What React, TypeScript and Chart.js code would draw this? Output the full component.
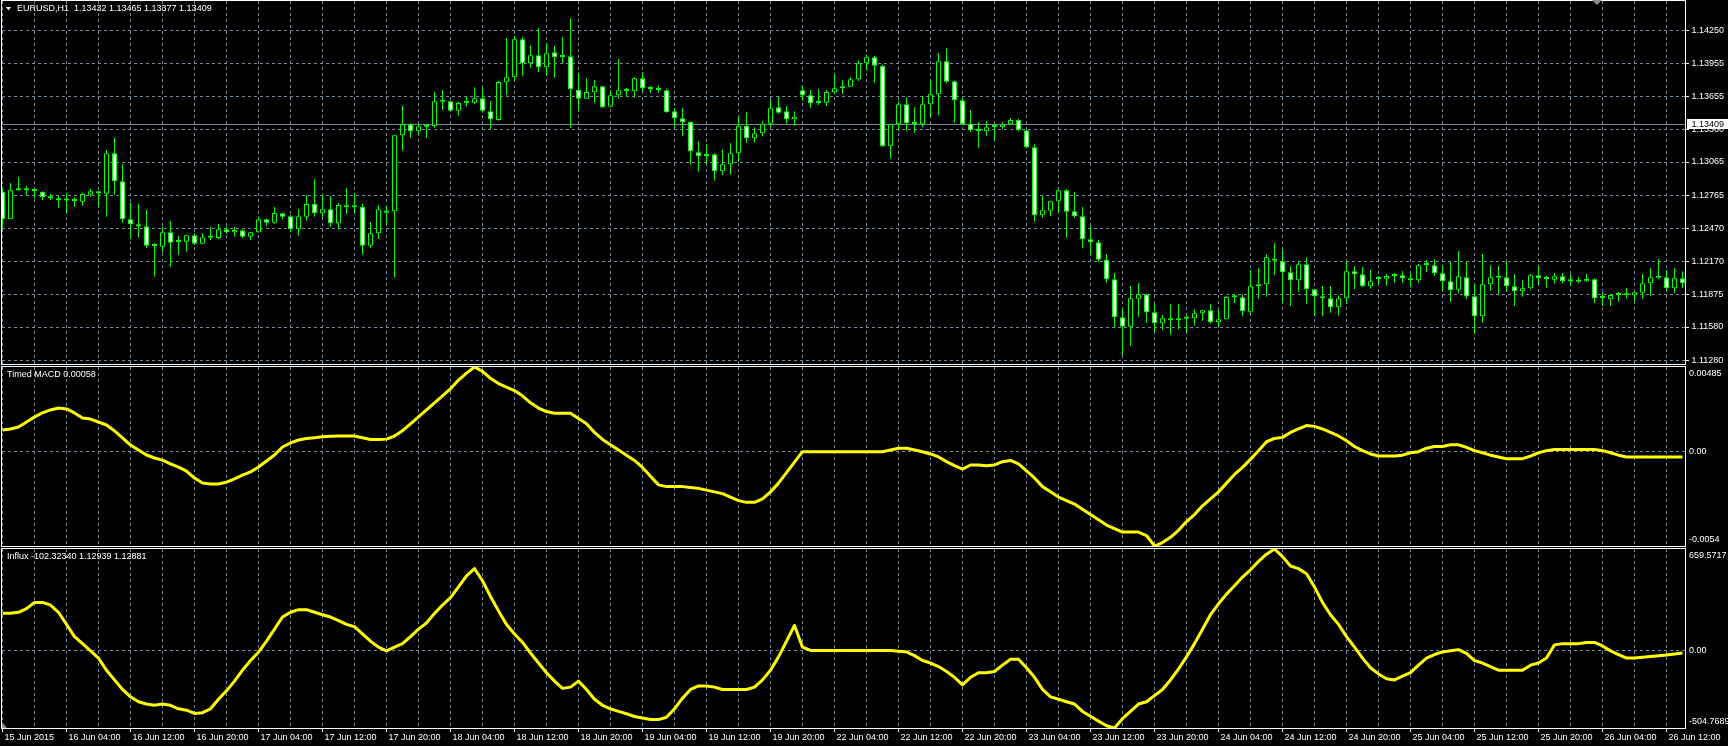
import React, { useEffect, useRef } from "react";
import { Chart, registerables } from "chart.js";

Chart.register(...registerables);

// ---------------- data ----------------
const PRICE_TITLE = "EURUSD,H1  1.13432 1.13465 1.13377 1.13409";
const MACD_TITLE = "Timed MACD 0.00058";
const INFLUX_TITLE = "Influx -102.32340 1.12939 1.12881";

const X_LABELS = [
  "15 Jun 2015", "16 Jun 04:00", "16 Jun 12:00", "16 Jun 20:00", "17 Jun 04:00", "17 Jun 12:00",
  "17 Jun 20:00", "18 Jun 04:00", "18 Jun 12:00", "18 Jun 20:00", "19 Jun 04:00", "19 Jun 12:00",
  "19 Jun 20:00", "22 Jun 04:00", "22 Jun 12:00", "22 Jun 20:00", "23 Jun 04:00", "23 Jun 12:00",
  "23 Jun 20:00", "24 Jun 04:00", "24 Jun 12:00", "24 Jun 20:00", "25 Jun 04:00", "25 Jun 12:00",
  "25 Jun 20:00", "26 Jun 04:00", "26 Jun 12:00",
];
const BARS_PER_LABEL = 8;
const BARS_PER_GRID = 4;

const PRICE_TICKS = [1.1425, 1.13955, 1.13655, 1.1336, 1.13065, 1.12765, 1.1247, 1.1217, 1.11875, 1.1158, 1.1128];
const PRICE_MIN = 1.11247;
const PRICE_MAX = 1.14514;
const CURRENT_PRICE = 1.13409;

const MACD_MAX = 0.00485;
const MACD_MIN = -0.0054;
const MACD_AXIS_LABELS = ["0.00485", "0.00", "-0.0054"];
const INFLUX_MAX = 659.5717;
const INFLUX_MIN = -504.7689;
const INFLUX_AXIS_LABELS = ["659.5717", "0.00", "-504.7689"];

const OPEN = [
  1.12798, 1.12549, 1.1281, 1.12813, 1.1281, 1.12798, 1.12744, 1.12738, 1.1272, 1.12714,
  1.12708, 1.12771, 1.12798, 1.1278, 1.13143, 1.12891, 1.12549, 1.12504, 1.12486, 1.12312,
  1.12303, 1.12432, 1.12345, 1.12348, 1.12405, 1.1233, 1.12384, 1.12381, 1.12459, 1.12432,
  1.1245, 1.12393, 1.12432, 1.12549, 1.12519, 1.12603, 1.12576, 1.12459, 1.12573, 1.12687,
  1.12603, 1.12639, 1.12513, 1.12675, 1.12657, 1.12663, 1.12312, 1.12423, 1.12627, 1.12621,
  1.13305, 1.13404, 1.13341, 1.13398, 1.13389, 1.13611, 1.13611, 1.13527, 1.13596, 1.13599,
  1.13638, 1.13521, 1.13443, 1.13782, 1.13827, 1.14169, 1.13953, 1.14025, 1.13917, 1.14052,
  1.14013, 1.14016, 1.13716, 1.13635, 1.13692, 1.13746, 1.13563, 1.13665, 1.13704, 1.13701,
  1.13818, 1.13722, 1.13728, 1.1371, 1.13521, 1.13458, 1.13425, 1.13152, 1.13134, 1.13134,
  1.12981, 1.13044, 1.13143, 1.13392, 1.13278, 1.13323, 1.1341, 1.13557, 1.13521, 1.13449,
  1.1371, 1.13665, 1.13602, 1.13599, 1.13692, 1.13743, 1.13743, 1.13809, 1.13953, 1.14007,
  1.13932, 1.13206, 1.13404, 1.13584, 1.13413, 1.13404, 1.13584, 1.13674, 1.13971, 1.13791,
  1.1362, 1.1341, 1.1335, 1.13341, 1.13386, 1.13377, 1.13404, 1.13443, 1.1335, 1.13197,
  1.12585, 1.12627, 1.12711, 1.1281, 1.12621, 1.12576, 1.12369, 1.12342, 1.12186, 1.12009,
  1.11667, 1.11583, 1.11835, 1.11874, 1.11712, 1.11613, 1.11658, 1.11658, 1.11658, 1.11658,
  1.11703, 1.1173, 1.11622, 1.11649, 1.11847, 1.11847, 1.11718, 1.11946, 1.11964, 1.12195,
  1.12171, 1.12072, 1.12, 1.12144, 1.11919, 1.11856, 1.11838, 1.11757, 1.11838, 1.12081,
  1.12054, 1.11946, 1.12018, 1.12015, 1.12039, 1.12045, 1.12018, 1.12, 1.12138, 1.12135,
  1.12063, 1.11991, 1.11916, 1.12027, 1.11856, 1.11676, 1.11964, 1.1203, 1.12027, 1.11946,
  1.11901, 1.11928, 1.12045, 1.12018, 1.12006, 1.12036, 1.12009, 1.11991, 1.11991, 1.12009,
  1.11847, 1.11829, 1.11868, 1.11865, 1.11865, 1.11889, 1.11973, 1.12024, 1.12027, 1.11928,
  1.12018,
];
const HIGH = [
  1.12828, 1.12876, 1.1293, 1.12849, 1.12813, 1.12801, 1.12777, 1.12759, 1.12789, 1.12747,
  1.12789, 1.12822, 1.12801, 1.13173, 1.13281, 1.13047, 1.12696, 1.12687, 1.12633, 1.12333,
  1.1248, 1.12534, 1.12399, 1.12408, 1.12423, 1.12423, 1.1248, 1.12507, 1.12483, 1.12483,
  1.12459, 1.12435, 1.12573, 1.12555, 1.1266, 1.12609, 1.12588, 1.12642, 1.12768, 1.12912,
  1.12771, 1.12759, 1.12693, 1.12831, 1.12783, 1.12693, 1.12525, 1.12675, 1.12672, 1.13311,
  1.13569, 1.13413, 1.13407, 1.13404, 1.13695, 1.13713, 1.13617, 1.13605, 1.13656, 1.13737,
  1.13734, 1.13614, 1.13794, 1.14181, 1.14199, 1.14187, 1.14115, 1.14271, 1.14136, 1.14109,
  1.1419, 1.14358, 1.13869, 1.13818, 1.13803, 1.13749, 1.1371, 1.13992, 1.13731, 1.13827,
  1.13872, 1.13749, 1.13755, 1.13719, 1.13548, 1.13551, 1.13431, 1.13251, 1.13227, 1.13143,
  1.13179, 1.13236, 1.13479, 1.13515, 1.13377, 1.13431, 1.13623, 1.13653, 1.13566, 1.13521,
  1.13758, 1.13716, 1.13722, 1.13713, 1.13857, 1.138, 1.13827, 1.1398, 1.14034, 1.14019,
  1.13941, 1.1341, 1.13611, 1.13647, 1.13557, 1.13656, 1.138, 1.14046, 1.14091, 1.13797,
  1.13644, 1.13533, 1.13425, 1.13434, 1.13389, 1.13422, 1.13461, 1.13455, 1.13356, 1.13224,
  1.12765, 1.12717, 1.12816, 1.12822, 1.12795, 1.1266, 1.12486, 1.12363, 1.12237, 1.12066,
  1.11748, 1.11949, 1.11976, 1.1188, 1.11787, 1.11688, 1.11787, 1.11787, 1.11688, 1.11739,
  1.11733, 1.11787, 1.11733, 1.11856, 1.11874, 1.11874, 1.12093, 1.12114, 1.12234, 1.12336,
  1.12273, 1.12126, 1.12171, 1.12204, 1.11925, 1.11949, 1.11949, 1.11865, 1.12174, 1.12126,
  1.1212, 1.12093, 1.12036, 1.12057, 1.12063, 1.12084, 1.12057, 1.12147, 1.12183, 1.12192,
  1.12138, 1.12168, 1.12264, 1.12168, 1.11964, 1.12237, 1.12135, 1.12129, 1.12168, 1.12057,
  1.12003, 1.12057, 1.12132, 1.12039, 1.12066, 1.12066, 1.12054, 1.12027, 1.12057, 1.12018,
  1.11892, 1.11874, 1.11895, 1.11931, 1.11898, 1.12057, 1.12111, 1.12192, 1.12093, 1.12111,
  1.12081,
];
const LOW = [
  1.12468, 1.12549, 1.12807, 1.12768, 1.12738, 1.12723, 1.12723, 1.12654, 1.12609, 1.12663,
  1.12672, 1.12753, 1.12663, 1.12573, 1.12768, 1.12519, 1.12372, 1.12384, 1.12294, 1.12033,
  1.12252, 1.12123, 1.12228, 1.12258, 1.12318, 1.1233, 1.12363, 1.12369, 1.1242, 1.12393,
  1.12378, 1.12363, 1.12429, 1.12492, 1.1251, 1.12549, 1.12438, 1.12402, 1.12537, 1.12573,
  1.12567, 1.12483, 1.12459, 1.12597, 1.12609, 1.12231, 1.12291, 1.12375, 1.12501, 1.12027,
  1.13167, 1.13284, 1.13308, 1.13284, 1.13374, 1.13533, 1.13521, 1.13482, 1.13563, 1.13587,
  1.13509, 1.13359, 1.13437, 1.13668, 1.13797, 1.13842, 1.13914, 1.13875, 1.13842, 1.13824,
  1.13953, 1.13374, 1.13527, 1.13632, 1.13599, 1.13554, 1.13557, 1.13635, 1.13653, 1.13644,
  1.13698, 1.13683, 1.13689, 1.13509, 1.13374, 1.13302, 1.13041, 1.12978, 1.1305, 1.12897,
  1.12948, 1.12951, 1.13065, 1.13239, 1.13239, 1.13296, 1.13377, 1.135, 1.1341, 1.13392,
  1.13617, 1.13551, 1.13578, 1.13569, 1.13677, 1.13677, 1.13743, 1.13794, 1.13887, 1.13779,
  1.13203, 1.13095, 1.13347, 1.13347, 1.13329, 1.13377, 1.1347, 1.13488, 1.13773, 1.13419,
  1.13401, 1.13338, 1.13194, 1.13302, 1.13263, 1.13359, 1.13401, 1.13344, 1.13188, 1.12528,
  1.12564, 1.12579, 1.12612, 1.12384, 1.12564, 1.12291, 1.12231, 1.12165, 1.11979, 1.11577,
  1.11328, 1.11412, 1.11673, 1.11619, 1.11535, 1.11556, 1.11511, 1.11559, 1.11529, 1.11595,
  1.11637, 1.11613, 1.1158, 1.11649, 1.11796, 1.11676, 1.11694, 1.11835, 1.11853, 1.12048,
  1.11799, 1.11772, 1.11898, 1.1179, 1.11682, 1.11676, 1.11709, 1.11682, 1.1179, 1.11919,
  1.11943, 1.11925, 1.11967, 1.11952, 1.11979, 1.11979, 1.11937, 1.11979, 1.12075, 1.12039,
  1.11907, 1.11805, 1.11883, 1.11832, 1.1152, 1.11619, 1.11907, 1.11871, 1.11901, 1.11772,
  1.11853, 1.11919, 1.11961, 1.11934, 1.1197, 1.11976, 1.11952, 1.11976, 1.11988, 1.11796,
  1.11769, 1.11769, 1.11808, 1.11838, 1.11805, 1.11835, 1.11862, 1.12012, 1.1191, 1.11883,
  1.11931,
];
const CLOSE = [
  1.12549, 1.1281, 1.12816, 1.1281, 1.12804, 1.12747, 1.12738, 1.1272, 1.12719, 1.1272,
  1.12777, 1.12801, 1.12783, 1.13143, 1.12891, 1.12549, 1.12504, 1.12486, 1.12312, 1.12309,
  1.12432, 1.12339, 1.12351, 1.12405, 1.1233, 1.12387, 1.12387, 1.12459, 1.12432, 1.12453,
  1.12393, 1.12432, 1.12549, 1.12519, 1.12606, 1.12573, 1.12459, 1.12576, 1.12687, 1.12603,
  1.12639, 1.12513, 1.12678, 1.12657, 1.1266, 1.12312, 1.12423, 1.12639, 1.12609, 1.13305,
  1.13404, 1.13341, 1.13386, 1.13383, 1.13611, 1.13608, 1.13527, 1.13596, 1.13602, 1.13638,
  1.13527, 1.13449, 1.13785, 1.13827, 1.14169, 1.13953, 1.14025, 1.13917, 1.14043, 1.14007,
  1.1401, 1.13719, 1.13635, 1.13695, 1.13746, 1.13557, 1.13665, 1.1371, 1.1371, 1.13818,
  1.13728, 1.13725, 1.13713, 1.13512, 1.13458, 1.13425, 1.13161, 1.13119, 1.13119, 1.12981,
  1.13044, 1.13143, 1.13392, 1.13278, 1.13323, 1.1341, 1.13548, 1.13509, 1.13449, 1.13473,
  1.13665, 1.13593, 1.13596, 1.13695, 1.13728, 1.13728, 1.13809, 1.13953, 1.14007, 1.13932,
  1.13206, 1.13404, 1.13584, 1.13413, 1.13407, 1.13584, 1.13674, 1.13971, 1.13788, 1.1362,
  1.13407, 1.1335, 1.13344, 1.13377, 1.1338, 1.13404, 1.13443, 1.1335, 1.13197, 1.12585,
  1.1263, 1.12711, 1.1281, 1.12618, 1.12576, 1.12369, 1.12342, 1.12186, 1.12009, 1.11667,
  1.11583, 1.11838, 1.11874, 1.11712, 1.11613, 1.11658, 1.1164, 1.1164, 1.11655, 1.11703,
  1.1173, 1.11622, 1.11649, 1.1185, 1.1185, 1.11721, 1.11946, 1.11964, 1.12207, 1.12177,
  1.12072, 1.12, 1.12144, 1.11919, 1.11856, 1.11838, 1.11757, 1.11838, 1.12081, 1.12054,
  1.11946, 1.11991, 1.12012, 1.12039, 1.12042, 1.12018, 1.12, 1.12135, 1.12144, 1.12063,
  1.11991, 1.1191, 1.12036, 1.11856, 1.11676, 1.11964, 1.12027, 1.12024, 1.11946, 1.11901,
  1.11928, 1.12045, 1.12018, 1.12012, 1.12036, 1.11991, 1.11991, 1.11988, 1.12012, 1.11838,
  1.11841, 1.11868, 1.11871, 1.11871, 1.11892, 1.11973, 1.12027, 1.12027, 1.11928, 1.12018,
  1.11973,
];

const MACD = [
  0.00124, 0.0013, 0.00141, 0.0017, 0.00199, 0.00222, 0.00239, 0.0025, 0.00245, 0.00222,
  0.00193, 0.00187, 0.0017, 0.00153, 0.00119, 0.00079, 0.00038, 0.0001, -0.00019, -0.00036,
  -0.00048, -0.0007, -0.00088, -0.00111, -0.00151, -0.00179, -0.00185, -0.00185, -0.00174, -0.00156,
  -0.00134, -0.00116, -0.00088, -0.00053, -0.00019, 0.00027, 0.0005, 0.00067, 0.00075, 0.0008,
  0.00085, 0.00088, 0.0009, 0.0009, 0.0009, 0.0008, 0.0007, 0.0007, 0.00072, 0.0009,
  0.0012, 0.0016, 0.002, 0.0024, 0.0028, 0.0032, 0.0036, 0.0041, 0.0045, 0.00485,
  0.0046, 0.0042, 0.0039, 0.0037, 0.0035, 0.0032, 0.0028, 0.0025, 0.0023, 0.0022,
  0.0022, 0.0022, 0.0019, 0.0016, 0.0011, 0.0007, 0.0004, 0.0001, -0.0002, -0.0005,
  -0.0009, -0.0014, -0.0019, -0.002, -0.002, -0.002, -0.00205, -0.0021, -0.0022, -0.0023,
  -0.0024, -0.0026, -0.0028, -0.0029, -0.0029, -0.0027, -0.0023, -0.0018, -0.0012, -0.0006,
  0.0, 0.0, 0.0, 0.0, 0.0, 0.0, 0.0, 0.0, 0.0, 0.0,
  0.0, 0.0001, 0.0002, 0.0002, 0.0001, 0.0, -0.00013, -0.0003, -0.00057, -0.0008,
  -0.001, -0.00076, -0.00076, -0.0008, -0.00076, -0.00057, -0.0005, -0.0007, -0.0011, -0.0015,
  -0.002, -0.0023, -0.0026, -0.0028, -0.003, -0.0033, -0.0036, -0.0039, -0.0042, -0.0044,
  -0.0046, -0.0046, -0.0046, -0.0048, -0.0054, -0.0052, -0.0049, -0.0045, -0.004, -0.0036,
  -0.0031, -0.0027, -0.0023, -0.0018, -0.0013, -0.0009, -0.00044, 0.00006, 0.00057, 0.00076,
  0.00082, 0.0011, 0.0013, 0.0015, 0.00145, 0.0013, 0.0011, 0.0009, 0.00063, 0.0003,
  0.00006, -0.00013, -0.00025, -0.00025, -0.00025, -0.0002, -0.00006, 0.0, 0.0002, 0.0003,
  0.0003, 0.0004, 0.0004, 0.00025, 0.00006, -0.00006, -0.0002, -0.0003, -0.0004, -0.0004,
  -0.0004, -0.00025, -0.00006, 0.00006, 0.00013, 0.00013, 0.00013, 0.00013, 0.00013, 0.00013,
  0.00006, -0.00006, -0.0002, -0.0003, -0.0003, -0.0003, -0.0003, -0.0003, -0.0003, -0.0003,
  -0.0003,
];

const INFLUX = [
  241, 241, 248, 272, 312, 312, 295, 248, 169, 90,
  44, -3, -50, -129, -192, -254, -302, -334, -349, -357,
  -349, -357, -380, -389, -410, -405, -380, -318, -263, -200,
  -129, -66, -12, 60, 138, 217, 248, 265, 265, 248,
  232, 217, 194, 169, 154, 107, 60, 21, -3, 21,
  44, 90, 138, 178, 241, 295, 343, 413, 485, 532,
  453, 351, 257, 169, 107, 52, -17, -82, -145, -200,
  -247, -239, -200, -254, -318, -357, -380, -397, -412, -430,
  -440, -450, -450, -435, -380, -311, -254, -231, -231, -239,
  -254, -254, -254, -254, -239, -192, -129, -42, 60, 162,
  21, 0, 0, 0, 0, 0, 0, 0, 0, 0,
  0, 0, -5, -10, -34, -66, -82, -105, -137, -175,
  -224, -175, -145, -145, -137, -96, -58, -58, -113, -175,
  -254, -302, -318, -334, -349, -397, -428, -460, -490, -504.7689,
  -444, -397, -349, -334, -294, -254, -192, -121, -42, 44,
  138, 232, 303, 366, 421, 477, 524, 579, 626, 659.5717,
  610, 549, 532, 499, 413, 312, 232, 169, 90, 21,
  -50, -113, -153, -184, -192, -168, -145, -96, -50, -27,
  -10, -3, 5, -19, -66, -82, -105, -129, -129, -129,
  -129, -96, -82, -50, 36, 44, 44, 44, 52, 52,
  29, -3, -27, -50, -50, -45, -40, -35, -30, -24,
  -17,
];

// ---------------- styling ----------------
const FONT = "'Liberation Sans', Arial, sans-serif";
const FG = "#ffffff";
const GRID = "#778899";
const CANDLE = "#00ff00";
const LINE = "#ffff00";
const W = 1728;
const H = 746;
const AXIS_W = 43;
const X_MIN = -0.0625;
const X_MAX = 210.3125;

Chart.defaults.font.family = FONT;
Chart.defaults.font.size = 9;
Chart.defaults.color = FG;

const xScale = (withLabels: boolean) => ({
  type: "linear",
  min: X_MIN,
  max: X_MAX,
  offset: false,
  afterBuildTicks: (s: any) => {
    const t: any[] = [];
    const last = (X_LABELS.length - 1) * BARS_PER_LABEL;
    for (let v = 0; v <= last; v += BARS_PER_GRID) t.push({ value: v });
    s.ticks = t;
  },
  afterFit: (s: any) => {
    s.height = withLabels ? 18 : 0;
    s.paddingLeft = 0;
    s.paddingRight = 0;
  },
  grid: {
    offset: false,
    color: GRID,
    lineWidth: 1,
    drawTicks: withLabels,
    tickLength: 4,
    tickWidth: 1,
    tickBorderDash: [],
    tickColor: (c: any) => (c.index % 2 === 0 ? FG : "rgba(0,0,0,0)"),
  },
  border: { display: false, dash: [3, 3] },
  ticks: {
    display: withLabels,
    autoSkip: false,
    maxRotation: 0,
    minRotation: 0,
    align: "start",
    padding: 0,
    labelOffset: 2,
    color: FG,
    font: { family: FONT, size: 9 },
    callback: (_v: any, i: number) => (i % 2 === 0 ? X_LABELS[i / 2] : ""),
  },
});

const overlay = (kind: "price" | "macd" | "influx") => ({
  id: "overlay_" + kind,
  beforeDatasetsDraw(chart: any) {
    if (kind !== "price") return;
    const { ctx, chartArea: a, scales } = chart;
    const y = Math.round(scales.y.getPixelForValue(CURRENT_PRICE)) + 0.5;
    ctx.save();
    ctx.strokeStyle = GRID;
    ctx.lineWidth = 1;
    ctx.beginPath();
    ctx.moveTo(a.left, y);
    ctx.lineTo(a.right, y);
    ctx.stroke();
    ctx.restore();
  },
  afterDraw(chart: any) {
    const { ctx, chartArea: a, scales } = chart;
    ctx.save();
    ctx.strokeStyle = FG;
    ctx.lineWidth = 1;
    ctx.strokeRect(a.left - 0.5, a.top - 0.5, a.right - a.left + 1, a.bottom - a.top + 1);
    ctx.font = `9px ${FONT}`;
    ctx.textBaseline = "middle";
    ctx.textAlign = "left";
    ctx.fillStyle = FG;
    if (kind === "price") {
      ctx.beginPath();
      ctx.moveTo(6, 7);
      ctx.lineTo(11, 7);
      ctx.lineTo(8.5, 10.5);
      ctx.closePath();
      ctx.fill();
      ctx.fillText(PRICE_TITLE, 17, 8.5);
      ctx.fillStyle = "#8c8c8c";
      ctx.beginPath();
      ctx.moveTo(1592, 0);
      ctx.lineTo(1602, 0);
      ctx.lineTo(1597, 5);
      ctx.closePath();
      ctx.fill();
      const py = Math.round(scales.y.getPixelForValue(CURRENT_PRICE));
      ctx.fillStyle = "#ffffff";
      ctx.fillRect(a.right + 2, py - 5, W - a.right - 2, 10);
      ctx.fillStyle = "#000000";
      ctx.fillText(CURRENT_PRICE.toFixed(5), a.right + 6.5, py + 0.5);
    } else {
      const labels = kind === "macd" ? MACD_AXIS_LABELS : INFLUX_AXIS_LABELS;
      ctx.fillText(kind === "macd" ? MACD_TITLE : INFLUX_TITLE, 7, a.top + 7.5);
      const x = a.right + 4;
      ctx.fillText(labels[0], x, a.top + 6.5);
      ctx.fillText(labels[1], x, scales.y.getPixelForValue(0));
      ctx.fillText(labels[2], x, a.bottom - 6.5);
      if (kind === "influx") {
        ctx.fillStyle = "#8c8c8c";
        ctx.beginPath();
        ctx.moveTo(a.left, a.bottom - 6);
        ctx.lineTo(a.left, a.bottom);
        ctx.lineTo(a.left + 5, a.bottom);
        ctx.closePath();
        ctx.fill();
      }
    }
    ctx.restore();
  },
});

const commonOptions = (padding: any) => ({
  responsive: false,
  maintainAspectRatio: false,
  animation: false,
  devicePixelRatio: 1,
  events: [],
  layout: { padding },
  plugins: { legend: { display: false }, tooltip: { enabled: false }, title: { display: false } },
});

function priceConfig(): any {
  const idx = OPEN.map((_, i) => i);
  return {
    type: "bar",
    data: {
      datasets: [
        {
          label: "wick",
          data: idx.map((i) => ({ x: i, y: [LOW[i], HIGH[i]] })),
          backgroundColor: CANDLE,
          borderWidth: 0,
          barThickness: 1,
          grouped: false,
          inflateAmount: 0,
          order: 2,
        },
        {
          label: "body",
          data: idx.map((i) => ({ x: i, y: [Math.min(OPEN[i], CLOSE[i]), Math.max(OPEN[i], CLOSE[i])] })),
          backgroundColor: idx.map((i) => (CLOSE[i] < OPEN[i] ? "#ffffff" : "#000000")),
          borderColor: CANDLE,
          borderWidth: 1,
          borderSkipped: false,
          barThickness: 5,
          minBarLength: 2,
          grouped: false,
          inflateAmount: 0,
          order: 1,
        },
      ],
    },
    options: {
      ...commonOptions({ top: 1, left: 2, right: 0, bottom: H - 364 }),
      scales: {
        x: xScale(false),
        y: {
          position: "right",
          min: PRICE_MIN,
          max: PRICE_MAX,
          afterBuildTicks: (s: any) => {
            s.ticks = PRICE_TICKS.map((v) => ({ value: v }));
          },
          afterFit: (s: any) => {
            s.width = AXIS_W;
            s.paddingTop = 0;
            s.paddingBottom = 0;
          },
          grid: { color: GRID, lineWidth: 1, tickLength: 4, tickColor: FG, tickBorderDash: [] },
          border: { display: false, dash: [3, 3] },
          ticks: { color: FG, padding: 2.5, font: { family: FONT, size: 9 }, callback: (v: any) => Number(v).toFixed(5) },
        },
      },
    },
    plugins: [overlay("price")],
  };
}

function lineConfig(kind: "macd" | "influx"): any {
  const values = kind === "macd" ? MACD : INFLUX;
  const top = kind === "macd" ? 367 : 549;
  const bottom = kind === "macd" ? 546 : 728;
  return {
    type: "line",
    data: {
      datasets: [
        {
          data: values.map((v, i) => ({ x: i, y: v })),
          borderColor: LINE,
          borderWidth: 3,
          pointRadius: 0,
          tension: 0,
          fill: false,
          clip: 0,
          borderJoinStyle: "round",
        },
      ],
    },
    options: {
      ...commonOptions({ top, left: 2, right: 0, bottom: kind === "macd" ? H - bottom : 0 }),
      scales: {
        x: xScale(kind === "influx"),
        y: {
          position: "right",
          min: kind === "macd" ? MACD_MIN : INFLUX_MIN,
          max: kind === "macd" ? MACD_MAX : INFLUX_MAX,
          afterBuildTicks: (s: any) => {
            s.ticks = [{ value: 0 }];
          },
          afterFit: (s: any) => {
            s.width = AXIS_W;
            s.paddingTop = 0;
            s.paddingBottom = 0;
          },
          grid: { color: GRID, lineWidth: 1, drawTicks: false },
          border: { display: false, dash: [3, 3] },
          ticks: { display: false },
        },
      },
    },
    plugins: [overlay(kind)],
  };
}

export default function App() {
  const c1 = useRef<HTMLCanvasElement>(null);
  const c2 = useRef<HTMLCanvasElement>(null);
  const c3 = useRef<HTMLCanvasElement>(null);

  useEffect(() => {
    document.body.style.margin = "0";
    document.body.style.background = "#000";
    document.body.style.overflow = "hidden";
    const charts = [
      new Chart(c1.current as HTMLCanvasElement, priceConfig()),
      new Chart(c2.current as HTMLCanvasElement, lineConfig("macd")),
      new Chart(c3.current as HTMLCanvasElement, lineConfig("influx")),
    ];
    return () => charts.forEach((c) => c.destroy());
  }, []);

  const cs: React.CSSProperties = { position: "absolute", left: 0, top: 0, width: W, height: H };
  return (
    <div style={{ position: "relative", width: W, height: H, background: "#000", overflow: "hidden" }}>
      <canvas ref={c1} width={W} height={H} style={cs} />
      <canvas ref={c2} width={W} height={H} style={cs} />
      <canvas ref={c3} width={W} height={H} style={cs} />
    </div>
  );
}
